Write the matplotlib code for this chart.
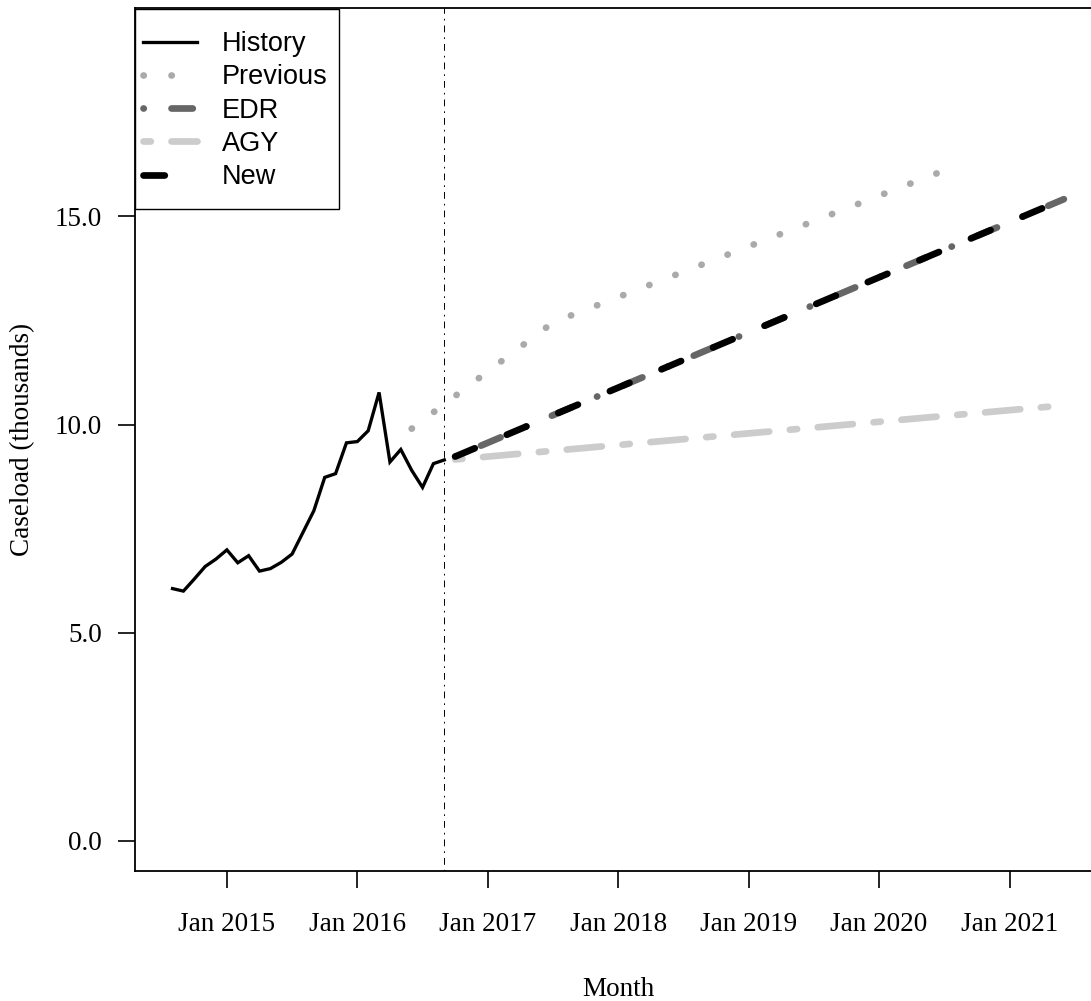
import numpy as np
import matplotlib
matplotlib.use('Agg')
import matplotlib.pyplot as plt
from matplotlib.patches import Rectangle

plt.rcParams['lines.scale_dashes'] = False

# historical caseload (thousands), monthly from Aug 2014 to Sep 2016
hist_vals = [6.06, 6.00, 6.29, 6.59, 6.77, 6.99, 6.68, 6.85, 6.48, 6.54,
             6.69, 6.89, 7.41, 7.93, 8.73, 8.82, 9.56, 9.59, 9.85, 10.77,
             9.10, 9.40, 8.90, 8.49, 9.06, 9.15]
hist_start = 2014 + 7 / 12  # Aug 2014

# forecasts: (time, value) pairs
prev_t = [2016 + 5 / 12, 2017 + 6 / 12, 2020 + 6 / 12]
prev_vals = [9.90, 12.45, 16.10]
edr_t = [2016 + 9 / 12, 2021 + 5 / 12]
edr_vals = [9.23, 15.41]
agy_t = [2016 + 9 / 12, 2021 + 5 / 12]
agy_vals = [9.16, 10.46]
new_t = [2016 + 9 / 12, 2021 + 5 / 12]
new_vals = [9.23, 15.41]

cutoff = 2016 + 8 / 12  # last history month
year_ticks = [2015, 2016, 2017, 2018, 2019, 2020, 2021]
year_labels = ['Jan %d' % y for y in year_ticks]
y_ticks = [0, 5, 10, 15]

hist_t = hist_start + np.arange(len(hist_vals)) / 12

# px -> pt at 100 dpi
def pt(px):
    return px * 0.72

lw_px = 6.7
u = 7.0  # one dash unit in px

fig = plt.figure(figsize=(10.91, 10.01), dpi=100)
ax = fig.add_axes([135 / 1091, 1 - 871 / 1001, 1 - 135 / 1091 + 0.01, (871 - 8) / 1001])

ax.plot(hist_t, hist_vals, color='black', lw=pt(3.3), label='History',
        solid_joinstyle='miter')
ax.plot(prev_t, prev_vals, color='#aaaaaa', lw=pt(lw_px), label='Previous',
        dash_capstyle='round',
        dashes=(pt(0.3), pt(4 * u - 0.3)))
ax.plot(edr_t, edr_vals, color='#666666', lw=pt(lw_px), label='EDR',
        dash_capstyle='round',
        dashes=(pt(0.3), pt(3 * u + lw_px), pt(4 * u - lw_px), pt(3 * u + lw_px)))
ax.plot(agy_t, agy_vals, color='#cccccc', lw=pt(lw_px), label='AGY',
        dash_capstyle='round',
        dashes=(pt(2 * u - lw_px), pt(2 * u + lw_px), pt(6 * u - lw_px), pt(2 * u + lw_px)))
ax.plot(new_t, new_vals, color='black', lw=pt(lw_px), label='New',
        dash_capstyle='round',
        dashes=(pt(4 * u - lw_px), pt(4 * u + lw_px)))

ax.axvline(cutoff, color='black', lw=0.7,
           dashes=(pt(1.7), pt(5), pt(6.8), pt(5)))

x0 = 2015 + (135 - 226.9) / 130.45
x1 = 2015 + (1091 + 11 - 226.9) / 130.45
ax.set_xlim(x0, x1)
ax.set_ylim((841 - 871) / 41.65, (841 - 8) / 41.65)

ax.set_xticks(year_ticks)
ax.set_xticklabels(year_labels)
ax.set_yticks(y_ticks)
ax.set_yticklabels(['%.1f' % v for v in y_ticks])

for lab in ax.get_xticklabels() + ax.get_yticklabels():
    lab.set_fontfamily('Liberation Serif')
    lab.set_fontsize(19.5)
ax.tick_params(axis='both', length=12, width=1.2, direction='out')
ax.tick_params(axis='x', pad=17.5)
ax.tick_params(axis='y', pad=12)
for s in ax.spines.values():
    s.set_linewidth(1.3)

ax.set_xlabel('Month', family='Liberation Serif', fontsize=19.5, labelpad=29)
ax.set_ylabel('Caseload (thousands)', family='Liberation Serif', fontsize=19.5, labelpad=14)

# legend box drawn separately, legend itself without frame
box = Rectangle((135 / 1091, 1 - 209 / 1001), 204 / 1091, 200 / 1001,
                transform=fig.transFigure, facecolor='white', edgecolor='black',
                lw=1.0, zorder=5, clip_on=False)
ax.add_patch(box)
leg = ax.legend(loc='upper left', bbox_to_anchor=(143 / 1091, 1 - 31 / 1001),
                bbox_transform=fig.transFigure,
                prop={'family': 'Liberation Sans', 'size': 19.5},
                handlelength=2.0, handletextpad=0.9, labelspacing=0.27,
                borderaxespad=0, borderpad=0, frameon=False)
leg.set_zorder(6)

plt.savefig('out.png', dpi=100)
